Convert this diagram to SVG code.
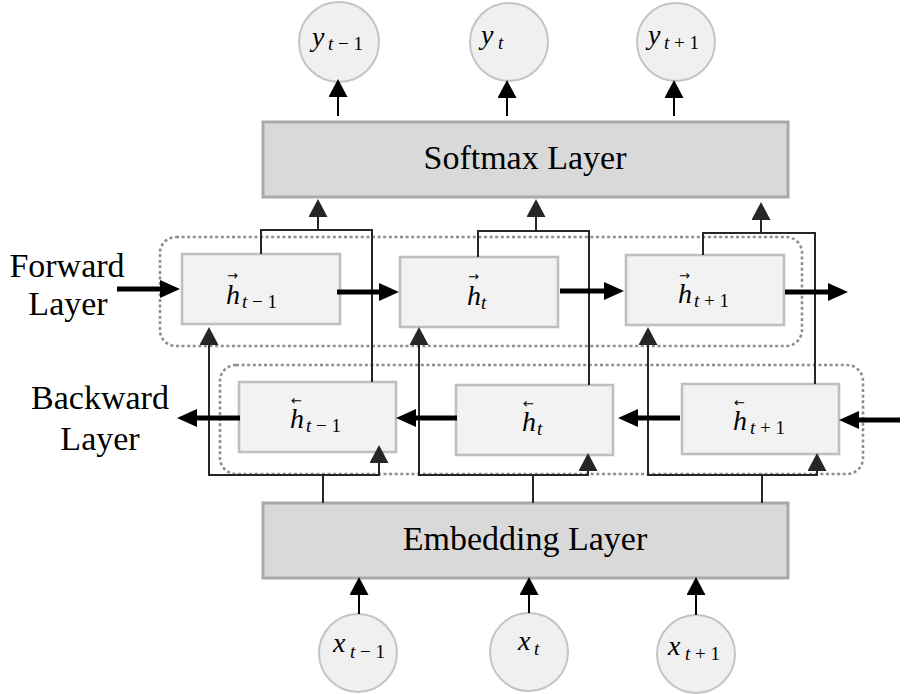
<svg xmlns="http://www.w3.org/2000/svg" width="907" height="694" viewBox="0 0 907 694">
<style>
.layer{fill:#d9d9d9;stroke:#a9a9a9;stroke-width:3}
.cell{fill:#f2f2f2;stroke:#bfbfbf;stroke-width:2.6}
.circ{fill:#f0f0f0;stroke:#c4c4c4;stroke-width:2}
.grp{fill:none;stroke:#8f8f8f;stroke-width:2.6;stroke-dasharray:3 2.6}
.lbl{font-family:'Liberation Serif','Times New Roman',serif;font-size:34px;fill:#000}
.m{font-family:'Liberation Serif','Times New Roman',serif;font-style:italic;font-size:28px;fill:#000}
.s{font-family:'Liberation Serif','Times New Roman',serif;font-size:19px;fill:#000}
.vec{font-family:'DejaVu Sans',sans-serif;font-size:13px;fill:#000}
.thin{fill:none;stroke:#262626;stroke-width:2}
.thinb{fill:none;stroke:#000;stroke-width:2}
.thick{fill:none;stroke:#000;stroke-width:5}
</style>
<defs>
<marker id="ah" markerUnits="userSpaceOnUse" viewBox="0 0 18 19" markerWidth="18" markerHeight="19" refX="0" refY="9.5" orient="auto"><path d="M0,0 L18,9.5 L0,19 z" fill="#262626"/></marker>
<marker id="ahb" markerUnits="userSpaceOnUse" viewBox="0 0 18 19" markerWidth="18" markerHeight="19" refX="0" refY="9.5" orient="auto"><path d="M0,0 L18,9.5 L0,19 z" fill="#000"/></marker>
<marker id="ahk" markerUnits="userSpaceOnUse" viewBox="0 0 20 18" markerWidth="20" markerHeight="18" refX="0" refY="9" orient="auto"><path d="M0,0 L20,9 L0,18 z" fill="#000"/></marker>
</defs>
<rect width="907" height="694" fill="#fff"/>

<g id="forward-group"><rect class="grp" x="160" y="237" width="642" height="109" rx="16"/></g>
<g id="backward-group"><rect class="grp" x="220" y="365" width="643" height="109" rx="16"/></g>

<g id="label-forward"><text class="lbl" x="67" y="277" text-anchor="middle">Forward</text><text class="lbl" x="68" y="315" text-anchor="middle">Layer</text></g>
<g id="label-backward"><text class="lbl" x="100" y="409" text-anchor="middle">Backward</text><text class="lbl" x="100" y="450" text-anchor="middle">Layer</text></g>

<g id="softmax"><rect class="layer" x="263" y="122" width="525" height="75"/><text class="lbl" x="525" y="169" text-anchor="middle">Softmax Layer</text></g>
<g id="embedding"><rect class="layer" x="263" y="503" width="525" height="75"/><text class="lbl" x="525" y="550" text-anchor="middle">Embedding Layer</text></g>

<g id="y1"><circle class="circ" cx="339" cy="42" r="40"/><text class="m" x="312" y="46">y</text><text class="s" x="328" y="50" font-size="21"><tspan font-style="italic">t</tspan> − 1</text></g>
<g id="y2"><circle class="circ" cx="509" cy="42" r="39"/><text class="m" x="481" y="44">y</text><text class="s" x="498" y="49" font-style="italic">t</text></g>
<g id="y3"><circle class="circ" cx="676" cy="42" r="39"/><text class="m" x="648" y="44">y</text><text class="s" x="664" y="49" font-size="20"><tspan font-style="italic">t</tspan> + 1</text></g>

<g id="x1"><circle class="circ" cx="358" cy="653" r="39"/><text class="m" x="333" y="652">x</text><text class="s" x="350" y="658"><tspan font-style="italic">t</tspan> − 1</text></g>
<g id="x2"><circle class="circ" cx="529" cy="652" r="39"/><text class="m" x="518" y="650">x</text><text class="s" x="534" y="655" font-style="italic">t</text></g>
<g id="x3"><circle class="circ" cx="696" cy="654" r="39"/><text class="m" x="668" y="655">x</text><text class="s" x="685" y="660"><tspan font-style="italic">t</tspan> + 1</text></g>

<g id="f1"><rect class="cell" x="182" y="254" width="158" height="70"/><text class="vec" x="227" y="280">→</text><text class="m" x="226" y="304">h</text><text class="s" x="242" y="308"><tspan font-style="italic">t</tspan> − 1</text></g>
<g id="f2"><rect class="cell" x="400" y="257" width="158" height="70"/><text class="vec" x="468" y="281">→</text><text class="m" x="467" y="305">h</text><text class="s" x="481" y="309" font-style="italic">t</text></g>
<g id="f3"><rect class="cell" x="626" y="255" width="158" height="70"/><text class="vec" x="679" y="280">→</text><text class="m" x="678" y="303">h</text><text class="s" x="694" y="307"><tspan font-style="italic">t</tspan> + 1</text></g>

<g id="b1"><rect class="cell" x="239" y="382" width="157" height="70"/><text class="vec" x="291" y="405">←</text><text class="m" x="290" y="428">h</text><text class="s" x="306" y="432"><tspan font-style="italic">t</tspan> − 1</text></g>
<g id="b2"><rect class="cell" x="456" y="385" width="157" height="70"/><text class="vec" x="523" y="408">←</text><text class="m" x="522" y="431">h</text><text class="s" x="537" y="435" font-style="italic">t</text></g>
<g id="b3"><rect class="cell" x="682" y="384" width="157" height="70"/><text class="vec" x="734" y="407">←</text><text class="m" x="733" y="430">h</text><text class="s" x="750" y="434"><tspan font-style="italic">t</tspan> + 1</text></g>

<g id="connectors">
<line class="thinb" x1="338" y1="116" x2="338" y2="97" marker-end="url(#ahb)"/>
<line class="thinb" x1="507" y1="116" x2="507" y2="98" marker-end="url(#ahb)"/>
<line class="thinb" x1="674" y1="116" x2="674" y2="98" marker-end="url(#ahb)"/>
<line class="thinb" x1="359" y1="614" x2="359" y2="595" marker-end="url(#ahb)"/>
<line class="thinb" x1="529" y1="613" x2="529" y2="595" marker-end="url(#ahb)"/>
<line class="thinb" x1="696" y1="615" x2="696" y2="595" marker-end="url(#ahb)"/>

<polyline class="thin" points="261,254 261,230 372,230 372,382"/>
<line class="thin" x1="318" y1="230" x2="318" y2="217" marker-end="url(#ah)"/>
<polyline class="thin" points="478,257 478,231 589,231 589,385"/>
<line class="thin" x1="536" y1="231" x2="536" y2="217" marker-end="url(#ah)"/>
<polyline class="thin" points="703,255 703,233 815,233 815,384"/>
<line class="thin" x1="761" y1="233" x2="761" y2="220" marker-end="url(#ah)"/>

<line class="thin" x1="323" y1="503" x2="323" y2="475"/>
<line class="thin" x1="533" y1="503" x2="533" y2="475"/>
<line class="thin" x1="762" y1="503" x2="762" y2="475"/>
<path class="thin" d="M209,476 V345" marker-end="url(#ah)"/>
<path class="thin" d="M209,475 H379 V463" marker-end="url(#ah)"/>
<path class="thin" d="M419,476 V345" marker-end="url(#ah)"/>
<path class="thin" d="M419,475 H588 V471" marker-end="url(#ah)"/>
<path class="thin" d="M648,476 V345" marker-end="url(#ah)"/>
<path class="thin" d="M648,475 H817 V471" marker-end="url(#ah)"/>

<line class="thick" x1="117" y1="289" x2="160" y2="289" marker-end="url(#ahk)"/>
<line class="thick" x1="337" y1="292" x2="379" y2="292" marker-end="url(#ahk)"/>
<line class="thick" x1="560" y1="291" x2="604" y2="291" marker-end="url(#ahk)"/>
<line class="thick" x1="785" y1="292" x2="828" y2="292" marker-end="url(#ahk)"/>
<line class="thick" x1="900" y1="420" x2="859" y2="420" marker-end="url(#ahk)"/>
<line class="thick" x1="680" y1="418" x2="638" y2="418" marker-end="url(#ahk)"/>
<line class="thick" x1="457" y1="418" x2="416" y2="418" marker-end="url(#ahk)"/>
<line class="thick" x1="240" y1="418" x2="197" y2="418" marker-end="url(#ahk)"/>
</g>
</svg>
